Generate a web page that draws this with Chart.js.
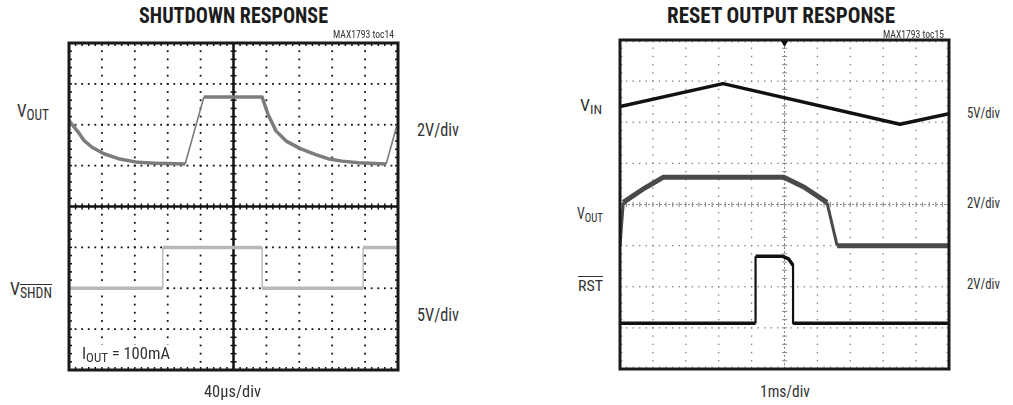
<!DOCTYPE html>
<html>
<head>
<meta charset="utf-8">
<script src="https://cdn.jsdelivr.net/npm/chart.js@4.4.1/dist/chart.umd.min.js"></script>
<style>
    body { margin: 0; width: 1013px; height: 405px; background: #fff; position: relative; overflow: hidden;
           font-family: "Liberation Sans Narrow", "Roboto Condensed", "DejaVu Sans Condensed", sans-serif; color: #333; }
    canvas { position: absolute; }
    .t { position: absolute; white-space: nowrap; line-height: 1; transform-origin: left top; }
    .t sub { font-size: 0.78em; vertical-align: -0.22em; line-height: 1; }
    .ov { text-decoration: overline; }
    .title { font-weight: bold; color: #1c1c1c; }
    .bg { background: #fff; padding: 0 1px; }
</style>
</head>
<body>
<canvas id="shdn" width="339" height="337" style="left:64px;top:38px"></canvas>
<canvas id="reset" width="339" height="339" style="left:615px;top:35px"></canvas>

<script>
// ================= DATA (screen divisions: x 0..10, y -4..+4) =================
// SHUTDOWN RESPONSE, 40us/div
const shdnVoutX = [0, 0.12, 0.3, 0.46, 0.7, 1.06, 1.5, 2.1, 2.6, 3.0, 3.53, 4.1, 5.87, 6.05, 6.29, 6.6, 7.05, 7.5, 7.87, 8.3, 8.8, 9.3, 9.64, 10];
const shdnVoutY = [2.1, 1.98, 1.8, 1.61, 1.45, 1.29, 1.17, 1.08, 1.06, 1.05, 1.04, 2.68, 2.68, 2.25, 1.85, 1.6, 1.41, 1.27, 1.17, 1.11, 1.07, 1.05, 1.04, 2.08];
const shdnCtrlX = [0, 2.85, 2.85, 5.87, 5.87, 8.94, 8.94, 10];
const shdnCtrlY = [-2, -2, -1, -1, -2, -2, -1, -1];

// RESET OUTPUT RESPONSE, 1ms/div
const rstVinX  = [0, 3.13, 8.51, 10];
const rstVinY  = [2.38, 2.94, 1.95, 2.21];
const rstVoutX = [0, 0.1, 0.75, 1.31, 4.98, 5.6, 6.29, 6.6, 10];
const rstVoutY = [-1.0, 0.05, 0.4, 0.66, 0.66, 0.42, 0.05, -1.0, -1.0];
const rstOutX  = [0, 4.12, 4.12, 4.95, 5.12, 5.26, 5.26, 10];
const rstOutY  = [-2.89, -2.89, -1.26, -1.26, -1.32, -1.48, -2.89, -2.89];

// ================= LABELS =================
const labels = [
    // [html, left, top, font size, fit width, class]
    ["SHUTDOWN RESPONSE", 139, 5, 22, 189, "title"],
    ["MAX1793 toc14", 333, 30, 10, 61, ""],
    ["V<sub>OUT</sub>", 17, 102, 18, 32, ""],
    ["V<sub class='ov'>SHDN</sub>", 10, 280, 18, 42, ""],
    ["2V/div", 417, 121, 18, 42, ""],
    ["5V/div", 417, 306, 18, 42, ""],
    ["I<sub>OUT</sub> = 100mA", 81, 345, 17, 90, "bg"],
    ["40µs/div", 204, 383, 17, 57, ""],
    ["RESET OUTPUT RESPONSE", 667, 5, 22, 228, "title"],
    ["MAX1793 toc15", 883, 30, 10, 61, ""],
    ["V<sub>IN</sub>", 580, 98, 16, 22, ""],
    ["V<sub>OUT</sub>", 577, 206, 16, 26, ""],
    ["<span class='ov'>RST</span>", 578, 279, 15, 25, ""],
    ["5V/div", 967, 106, 15, 33, ""],
    ["2V/div", 967, 196, 15, 33, ""],
    ["2V/div", 967, 277, 15, 33, ""],
    ["1ms/div", 760, 383, 17, 50, ""]
];

labels.forEach(([html, left, top, size, width, cls]) => {
    const el = document.createElement("div");
    el.className = "t " + cls;
    el.innerHTML = html;
    el.style.left = left + "px";
    el.style.top = top + "px";
    el.style.fontSize = size + "px";
    document.body.appendChild(el);
    const w = el.getBoundingClientRect().width;
    if (w > 0) el.style.transform = `scaleX(${width / w})`;
});

// ================= GRATICULE PLUGIN =================
const graticule = {
    id: "graticule",
    beforeDatasetsDraw(chart, args, o) {
        const { ctx, scales: { x, y } } = chart;
        const X = v => x.getPixelForValue(v);
        const Y = v => y.getPixelForValue(v);
        const line = (x1, y1, x2, y2) => { ctx.beginPath(); ctx.moveTo(x1, y1); ctx.lineTo(x2, y2); ctx.stroke(); };
        ctx.save();

        // dotted grid
        const d = o.dot;
        ctx.fillStyle = o.dotColor;
        for (let i = 1; i < 10; i++) {
            if (i === 5) continue;
            for (let k = 1; k < 40; k++) ctx.fillRect(X(i) - d / 2, Y(-4 + k * 0.2) - d / 2, d, d);
        }
        for (let j = -3; j <= 3; j++) {
            if (j === 0) continue;
            for (let k = 1; k < 50; k++) ctx.fillRect(X(k * 0.2) - d / 2, Y(j) - d / 2, d, d);
        }

        // center axes
        ctx.strokeStyle = o.axisColor;
        ctx.lineWidth = o.axisWidth;
        ctx.setLineDash(o.axisDash);
        line(X(0), Y(0), X(10), Y(0));
        line(X(5), Y(-4), X(5), Y(4));
        ctx.setLineDash([]);

        // minor ticks on center axes
        ctx.lineWidth = o.tickWidth;
        const t = o.tick;
        for (let k = 1; k < 50; k++) line(X(k * 0.2), Y(0) - t, X(k * 0.2), Y(0) + t);
        for (let k = 1; k < 40; k++) line(X(5) - t, Y(-4 + k * 0.2), X(5) + t, Y(-4 + k * 0.2));

        // ticks along the frame
        ctx.strokeStyle = o.edgeColor;
        const e = o.edge;
        for (let k = 1; k < 50; k++) {
            line(X(k * 0.2), Y(4), X(k * 0.2), Y(4) + e);
            line(X(k * 0.2), Y(-4), X(k * 0.2), Y(-4) - e);
        }
        for (let k = 1; k < 40; k++) {
            line(X(0), Y(-4 + k * 0.2), X(0) + e, Y(-4 + k * 0.2));
            line(X(10), Y(-4 + k * 0.2), X(10) - e, Y(-4 + k * 0.2));
        }
        ctx.restore();
    },
    afterDatasetsDraw(chart, args, o) {
        const { ctx, chartArea: a, scales: { x } } = chart;
        ctx.save();
        ctx.strokeStyle = o.frameColor;
        ctx.lineWidth = o.frame;
        ctx.strokeRect(a.left, a.top, a.right - a.left, a.bottom - a.top);
        if (o.trigger) {
            const cx = x.getPixelForValue(5);
            ctx.fillStyle = "#111";
            ctx.beginPath();
            ctx.moveTo(cx - 3.5, a.top + 1);
            ctx.lineTo(cx + 3.5, a.top + 1);
            ctx.lineTo(cx, a.top + 7);
            ctx.closePath();
            ctx.fill();
        }
        ctx.restore();
    }
};

// ================= CHARTS =================
const pts = (xs, ys) => xs.map((v, i) => ({ x: v, y: ys[i] }));

// near-vertical edges of a trace are drawn thinner than the noisy flat parts
const thin = (w, tw) => c => Math.abs(c.p1.y - c.p0.y) > 3.3 * Math.abs(c.p1.x - c.p0.x) ? tw : w;

function trace(xs, ys, color, w, tw) {
    return {
        data: pts(xs, ys),
        showLine: true,
        borderColor: color,
        borderWidth: w,
        borderJoinStyle: "round",
        pointRadius: 0,
        segment: { borderWidth: thin(w, tw) }
    };
}

function scope(id, datasets, look) {
    return new Chart(document.getElementById(id), {
        type: "scatter",
        data: { datasets },
        options: {
            responsive: false,
            animation: false,
            layout: { padding: 5 },
            scales: {
                x: { type: "linear", min: 0, max: 10, display: false },
                y: { type: "linear", min: -4, max: 4, display: false }
            },
            plugins: { legend: { display: false }, tooltip: { enabled: false }, graticule: look }
        },
        plugins: [graticule]
    });
}

scope("shdn", [
    trace(shdnVoutX, shdnVoutY, "#7c7c7c", 3.5, 1.6),
    trace(shdnCtrlX, shdnCtrlY, "#b8b8b8", 3.5, 1.4)
], {
    dot: 1.8, dotColor: "#111",
    axisColor: "#111", axisWidth: 2.5, axisDash: [],
    tick: 3, tickWidth: 1.5,
    edge: 3, edgeColor: "#111",
    frame: 3, frameColor: "#1a1a1a", trigger: false
});

scope("reset", [
    trace(rstVinX, rstVinY, "#111", 3.5, 3.5),
    trace(rstVoutX, rstVoutY, "#4a4a4a", 5, 3),
    trace(rstOutX, rstOutY, "#111", 3.5, 2.2)
], {
    dot: 1.3, dotColor: "#777",
    axisColor: "#888", axisWidth: 1, axisDash: [2, 2],
    tick: 2.5, tickWidth: 1,
    edge: 2.5, edgeColor: "#888",
    frame: 3, frameColor: "#1a1a1a", trigger: true
});
</script>
</body>
</html>
